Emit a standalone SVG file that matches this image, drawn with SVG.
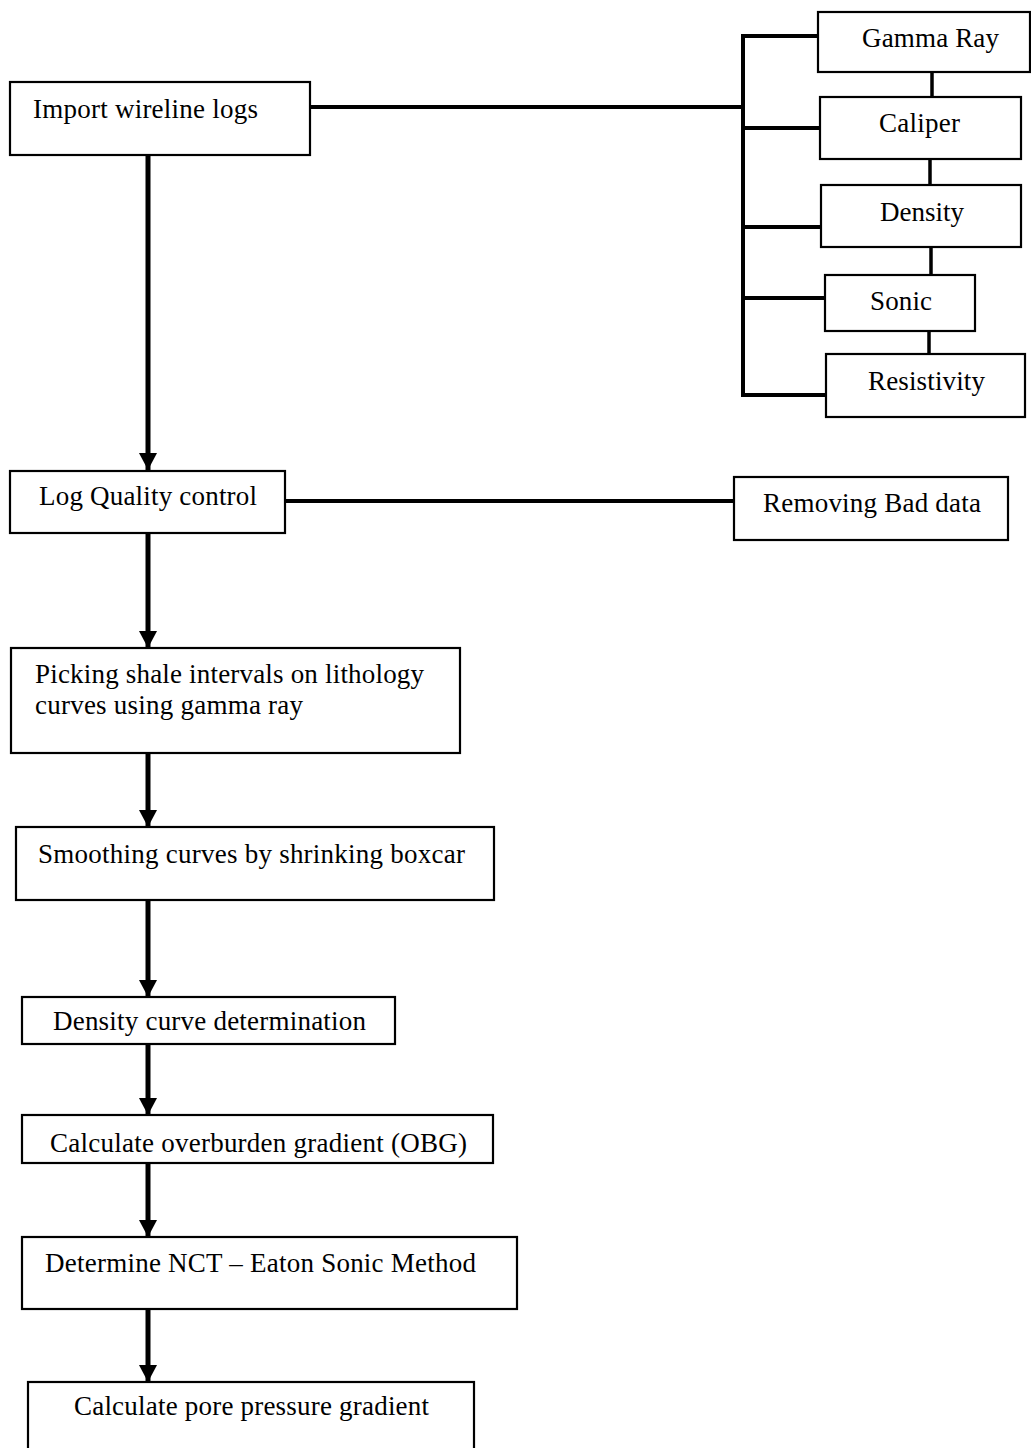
<svg xmlns="http://www.w3.org/2000/svg" width="1031" height="1448" viewBox="0 0 1031 1448">
  <style>
    .box { fill: #ffffff; stroke: #000000; stroke-width: 2.2; }
    .lbl { font-family: "Liberation Serif", "Times New Roman", serif; font-size: 27px; fill: #000000; }
    .flow { stroke: #000000; stroke-width: 5; fill: none; }
    .tie { stroke: #000000; stroke-width: 4; fill: none; stroke-linecap: square; }
    .link { stroke: #000000; stroke-width: 3.5; fill: none; }
  </style>
  <defs>
    <marker id="head" markerUnits="userSpaceOnUse" markerWidth="18" markerHeight="18" refX="17" refY="9" orient="auto">
      <path d="M0,0 L17,9 L0,18 Z" fill="#000000"/>
    </marker>
  </defs>

  <rect width="1031" height="1448" fill="#ffffff"/>

  <!-- connectors -->
  <g id="connectors">
    <!-- log list bracket -->
    <path class="tie" d="M310,107 H743"/>
    <path class="tie" d="M743,36 V395"/>
    <path class="tie" d="M743,36 H818"/>
    <path class="tie" d="M743,128 H820"/>
    <path class="tie" d="M743,227 H821"/>
    <path class="tie" d="M743,298 H825"/>
    <path class="tie" d="M743,395 H826"/>
    <!-- chain between log boxes -->
    <path class="link" d="M932,72 V97"/>
    <path class="link" d="M930,159 V185"/>
    <path class="link" d="M931,247 V275"/>
    <path class="link" d="M929,331 V354"/>
    <!-- quality control side branch -->
    <path class="tie" d="M285,501 H734"/>
    <!-- main workflow arrows -->
    <line class="flow" x1="148" y1="155" x2="148" y2="470" marker-end="url(#head)"/>
    <line class="flow" x1="148" y1="533" x2="148" y2="648" marker-end="url(#head)"/>
    <line class="flow" x1="148" y1="753" x2="148" y2="827" marker-end="url(#head)"/>
    <line class="flow" x1="148" y1="900" x2="148" y2="997" marker-end="url(#head)"/>
    <line class="flow" x1="148" y1="1044" x2="148" y2="1115" marker-end="url(#head)"/>
    <line class="flow" x1="148" y1="1163" x2="148" y2="1237" marker-end="url(#head)"/>
    <line class="flow" x1="148" y1="1309" x2="148" y2="1382" marker-end="url(#head)"/>
  </g>

  <g id="import">
    <rect class="box" x="10" y="82" width="300" height="73"/>
    <text class="lbl" x="33" y="118" textLength="225">Import wireline logs</text>
  </g>

  <g id="gamma-ray">
    <rect class="box" x="818" y="12" width="212" height="60"/>
    <text class="lbl" x="862" y="47" textLength="137">Gamma Ray</text>
  </g>
  <g id="caliper">
    <rect class="box" x="820" y="97" width="201" height="62"/>
    <text class="lbl" x="879" y="132" textLength="81">Caliper</text>
  </g>
  <g id="density">
    <rect class="box" x="821" y="185" width="200" height="62"/>
    <text class="lbl" x="880" y="221" textLength="84">Density</text>
  </g>
  <g id="sonic">
    <rect class="box" x="825" y="275" width="150" height="56"/>
    <text class="lbl" x="870" y="310" textLength="62">Sonic</text>
  </g>
  <g id="resistivity">
    <rect class="box" x="826" y="354" width="199" height="63"/>
    <text class="lbl" x="868" y="390" textLength="117">Resistivity</text>
  </g>

  <g id="quality-control">
    <rect class="box" x="10" y="471" width="275" height="62"/>
    <text class="lbl" x="39" y="505" textLength="218">Log Quality control</text>
  </g>
  <g id="bad-data">
    <rect class="box" x="734" y="477" width="274" height="63"/>
    <text class="lbl" x="763" y="512" textLength="218">Removing Bad data</text>
  </g>

  <g id="shale-picking">
    <rect class="box" x="11" y="648" width="449" height="105"/>
    <text class="lbl" x="35" y="683" textLength="389">Picking shale intervals on lithology</text>
    <text class="lbl" x="35" y="714" textLength="268">curves using gamma ray</text>
  </g>

  <g id="smoothing">
    <rect class="box" x="16" y="827" width="478" height="73"/>
    <text class="lbl" x="38" y="863" textLength="427">Smoothing curves by shrinking boxcar</text>
  </g>

  <g id="density-curve">
    <rect class="box" x="22" y="997" width="373" height="47"/>
    <text class="lbl" x="53" y="1030" textLength="313">Density curve determination</text>
  </g>

  <g id="obg">
    <rect class="box" x="22" y="1115" width="471" height="48"/>
    <text class="lbl" x="50" y="1152" textLength="417">Calculate overburden gradient (OBG)</text>
  </g>

  <g id="nct">
    <rect class="box" x="22" y="1237" width="495" height="72"/>
    <text class="lbl" x="45" y="1272" textLength="431">Determine NCT – Eaton Sonic Method</text>
  </g>

  <g id="pore-pressure">
    <rect class="box" x="28" y="1382" width="446" height="80"/>
    <text class="lbl" x="74" y="1415" textLength="355">Calculate pore pressure gradient</text>
  </g>
</svg>
